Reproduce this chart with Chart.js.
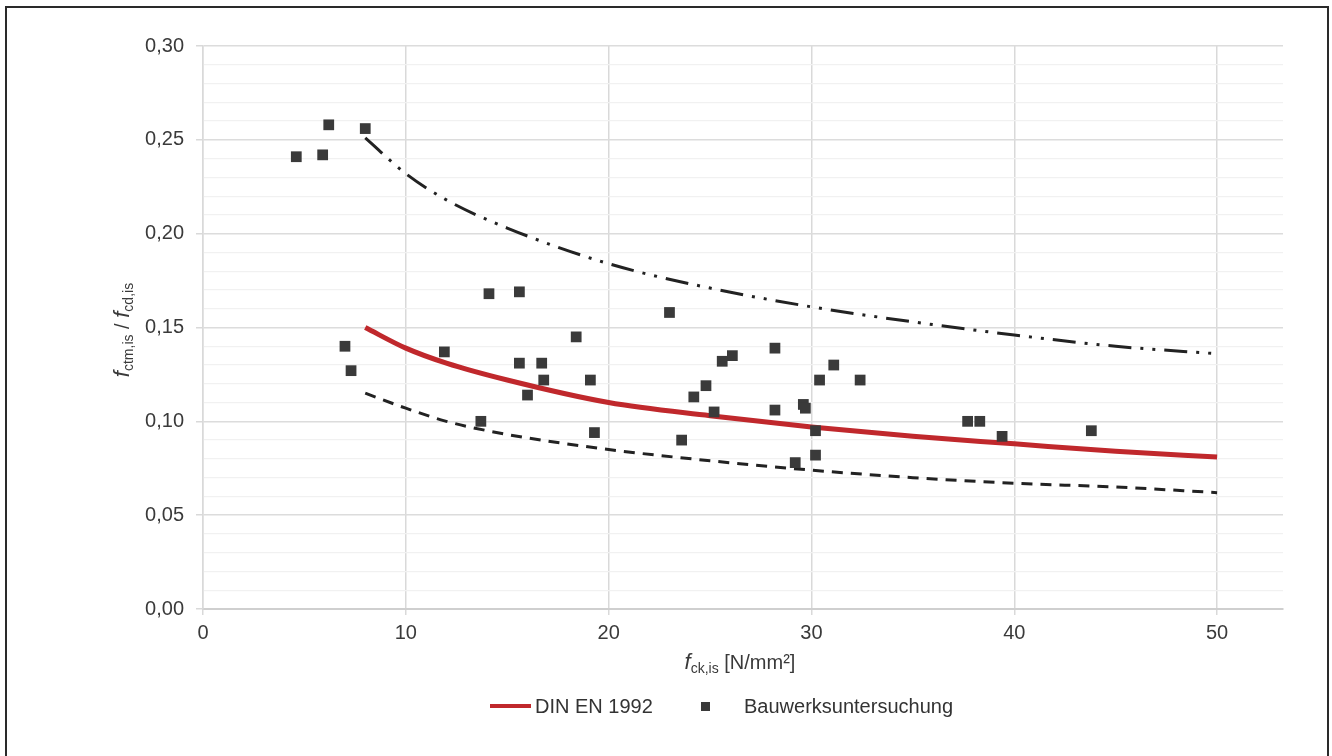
<!DOCTYPE html>
<html lang="de">
<head>
<meta charset="UTF-8">
<title>Zugfestigkeit / Druckfestigkeit</title>
<script src="https://cdn.jsdelivr.net/npm/chart.js"></script>
<style>
  body { margin: 0; background: #fff; font-family: "Liberation Sans", Arial, sans-serif; }
  .wrap { position: relative; width: 1332px; height: 756px; overflow: hidden; }
  .frame { position: absolute; left: 5px; top: 6px; width: 1320px; height: 800px; border: 2px solid #2a2a2a; pointer-events: none; }
  canvas { position: absolute; left: 0; top: 0; }
  .title { position: absolute; color: #3a3a3a; font-size: 20px; white-space: nowrap; }
  .title i { font-size: 22px; }
  .title sub { font-size: 14px; vertical-align: -4px; }
  .xtitle { left: 740px; top: 662px; transform: translate(-50%, -50%); }
  .ytitle { left: 122px; top: 330px; transform: translate(-50%, -50%) rotate(-90deg); }
  .legend { position: absolute; top: 694px; left: 0; width: 1332px; height: 26px; font-size: 20px; color: #333; }
  .legend span { position: absolute; top: 0; line-height: 24px; }
  .sw-line { position: absolute; left: 490px; top: 10px; width: 41px; height: 4px; background: #c0282c; }
  .sw-box { position: absolute; left: 701px; top: 8px; width: 9px; height: 9px; background: #3a3a3a; }
</style>
</head>
<body>
<div class="wrap">
  <canvas id="chart" width="1332" height="756"></canvas>
  <div class="frame"></div>
  <div class="title xtitle"><i>f</i><sub>ck,is</sub> [N/mm²]</div>
  <div class="title ytitle"><i>f</i><sub>ctm,is</sub> / <i>f</i><sub>cd,is</sub></div>
  <div class="legend">
    <div class="sw-line"></div><span style="left:535px">DIN EN 1992</span>
    <div class="sw-box"></div><span style="left:744px">Bauwerksuntersuchung</span>
  </div>
</div>
<script>
// Messwerte Bauwerksuntersuchung (fck,is in N/mm², Verhältnis)
const pointsX = [4.6, 5.9, 6.2, 8.0, 7.0, 7.3, 11.9, 13.7, 14.1, 15.6, 15.6, 16.0, 16.7, 16.8,
  18.4, 19.1, 19.3, 23.0, 23.6, 24.2, 24.8, 25.2, 25.6, 26.1, 28.2, 28.2, 29.2, 29.6, 29.7,
  30.2, 30.2, 30.4, 31.1, 32.4, 37.7, 38.3, 39.4, 43.8];
const pointsY = [0.241, 0.242, 0.258, 0.256, 0.140, 0.127, 0.137, 0.100, 0.168, 0.169, 0.131, 0.114, 0.131, 0.122,
  0.145, 0.122, 0.094, 0.158, 0.090, 0.113, 0.119, 0.105, 0.132, 0.135, 0.139, 0.106, 0.078, 0.109, 0.107,
  0.095, 0.082, 0.122, 0.130, 0.122, 0.100, 0.100, 0.092, 0.095];

// Kurven
const curveX = [8, 10, 12, 15, 20, 25, 30, 35, 40, 45, 50];
const dinY   = [0.150, 0.139, 0.131, 0.122, 0.110, 0.103, 0.097, 0.092, 0.088, 0.084, 0.081];
const upperY = [0.251, 0.232, 0.218, 0.203, 0.184, 0.171, 0.161, 0.153, 0.146, 0.140, 0.136];
const lowerY = [0.115, 0.107, 0.100, 0.093, 0.085, 0.079, 0.074, 0.070, 0.067, 0.065, 0.062];

const xTicks = [0, 10, 20, 30, 40, 50];

const toXY = (xs, ys) => xs.map((x, i) => ({ x: x, y: ys[i] }));
const isMajor = v => Math.round(v * 100) % 5 === 0;

new Chart(document.getElementById('chart').getContext('2d'), {
  data: {
    datasets: [
      {
        type: 'scatter',
        label: 'Bauwerksuntersuchung',
        data: toXY(pointsX, pointsY),
        pointStyle: 'rect',
        pointRadius: 7.6,
        pointBackgroundColor: '#3a3a3a',
        pointBorderWidth: 0,
        order: 0
      },
      {
        type: 'line',
        label: 'DIN EN 1992',
        data: toXY(curveX, dinY),
        borderColor: '#c0282c',
        borderWidth: 5,
        pointRadius: 0,
        cubicInterpolationMode: 'monotone',
        fill: false,
        order: 1
      },
      {
        type: 'line',
        label: 'oben',
        data: toXY(curveX, upperY),
        borderColor: '#222',
        borderWidth: 3,
        borderDash: [23, 9, 3, 9, 3, 9],
        pointRadius: 0,
        cubicInterpolationMode: 'monotone',
        fill: false,
        order: 2
      },
      {
        type: 'line',
        label: 'unten',
        data: toXY(curveX, lowerY),
        borderColor: '#222',
        borderWidth: 3,
        borderDash: [11, 8],
        pointRadius: 0,
        cubicInterpolationMode: 'monotone',
        fill: false,
        order: 3
      }
    ]
  },
  options: {
    responsive: false,
    animation: false,
    layout: { padding: { left: 0, right: 49, top: 46, bottom: 0 } },
    plugins: { legend: { display: false }, tooltip: { enabled: false } },
    scales: {
      x: {
        type: 'linear',
        min: 0,
        max: 53.25,
        afterFit: s => { s.height = 147; },
        afterBuildTicks: s => { s.ticks = xTicks.map(v => ({ value: v })); },
        ticks: {
          includeBounds: false,
          padding: 6,
          color: '#3a3a3a',
          font: { family: 'Liberation Sans', size: 20 }
        },
        grid: { color: '#d9d9d9', tickColor: '#d9d9d9', tickLength: 6, lineWidth: 1.5 },
        border: { color: '#cfcfcf', width: 2 }
      },
      y: {
        min: 0,
        max: 0.30,
        afterFit: s => { s.width = 203; },
        ticks: {
          stepSize: 0.01,
          autoSkip: false,
          padding: 12,
          color: '#3a3a3a',
          font: { family: 'Liberation Sans', size: 20 },
          callback: v => isMajor(v) ? v.toFixed(2).replace('.', ',') : ''
        },
        grid: {
          color: c => isMajor(c.tick.value) ? '#dcdcdc' : '#f1f1f1',
          lineWidth: c => isMajor(c.tick.value) ? 1.5 : 1.2,
          tickColor: c => isMajor(c.tick.value) ? '#d9d9d9' : 'rgba(0,0,0,0)',
          tickLength: 7
        },
        border: { color: '#d9d9d9', width: 1.5 }
      }
    }
  }
});
</script>
</body>
</html>
